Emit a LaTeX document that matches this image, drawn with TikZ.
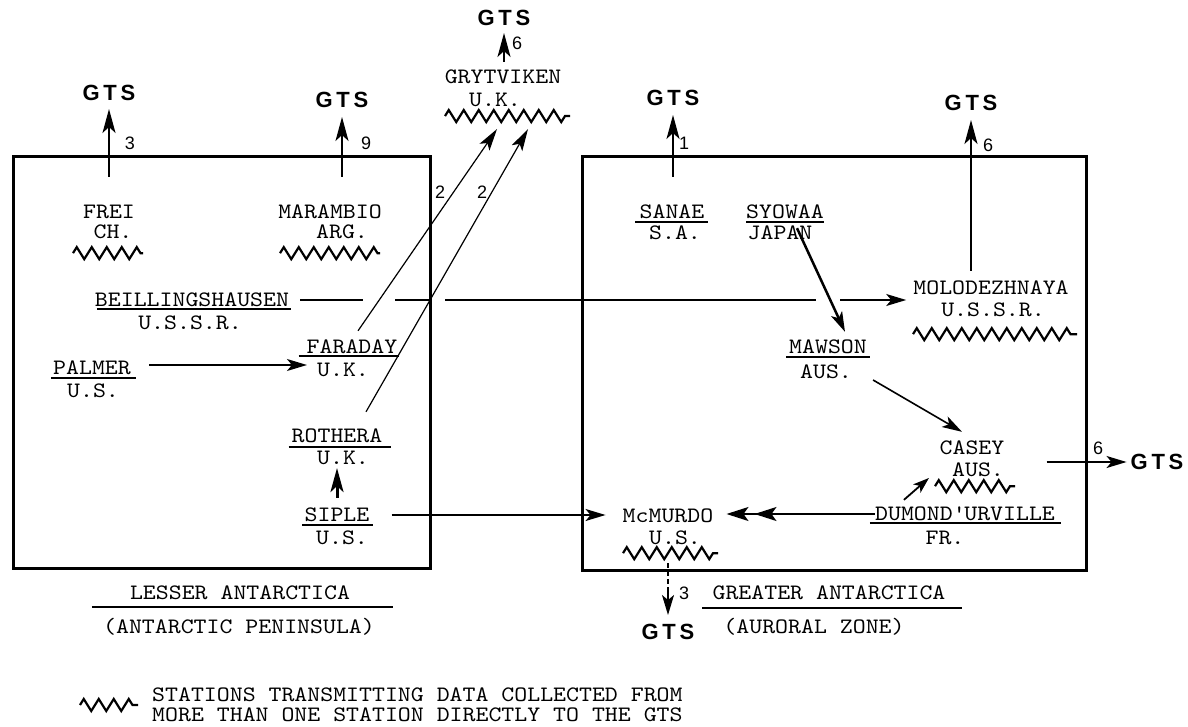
\documentclass[tikz,border=0pt]{standalone}
\usepackage{fontspec}
\newfontfamily\gtsfont{Liberation Sans}
\newfontfamily\twfont{lmmono10-regular.otf}[FakeStretch=1.12]
\usetikzlibrary{arrows.meta,decorations.pathmorphing,calc}
\begin{document}
\begin{tikzpicture}[x=1pt,y=-1pt,
  tw/.style={font=\twfont\fontsize{22}{20}\selectfont, inner sep=0pt},
  gts/.style={font=\gtsfont\bfseries\fontsize{22}{24}\selectfont, inner sep=0pt},
  num/.style={font=\gtsfont\fontsize{18}{20}\selectfont, inner sep=0pt},
  frame/.style={line width=3pt, line join=miter},
  link/.style={line width=1.6pt, -{Stealth[length=20pt,width=12pt,inset=5pt]}},
  uplink/.style={line width=1.8pt, -{Stealth[length=24pt,width=13pt,inset=6pt]}},
  thinlink/.style={line width=1.2pt, -{Stealth[length=22pt,width=12pt,inset=5pt]}},
  wavy/.style={line width=2.2pt, line join=miter, decorate, decoration={zigzag, segment length=15pt, amplitude=6pt}},
  ul/.style={line width=1.6pt}]
\useasboundingbox (0,0) rectangle (1188,727);

% frames
\draw[frame] (13,157) rectangle (430,568);
\draw[frame] (582,157) rectangle (1086,570);

% Lesser Antarctica stations
\node[tw] (frei) at (109,212) {FREI};
\node[tw] (freic) at (113,232) {CH.};
\node[tw] (mara) at (330,212) {MARAMBIO};
\node[tw] (marac) at (342,232) {ARG.};
\node[tw] (bell) at (192,300) {BEILLINGSHAUSEN};
\node[tw] (bellc) at (190,323) {U.S.S.R.};
\node[tw] (fara) at (352,347) {FARADAY};
\node[tw] (farac) at (343,370) {U.K.};
\node[tw] (palm) at (92,368) {PALMER};
\node[tw] (palmc) at (93,391) {U.S.};
\node[tw] (roth) at (337,436) {ROTHERA};
\node[tw] (rothc) at (343,458) {U.K.};
\node[tw] (sipl) at (337,515) {SIPLE};
\node[tw] (siplc) at (342,538) {U.S.};
\node[tw] (lesser) at (240,593) {LESSER ANTARCTICA};
\node[tw] (lesserc) at (239,627) {(ANTARCTIC PENINSULA)};

% Grytviken
\node[tw] (gryt) at (503,77) {GRYTVIKEN};
\node[tw] (grytc) at (495,100) {U.K.};

% Greater Antarctica stations
\node[tw] (sanae) at (672,212) {SANAE};
\node[tw] (sanaec) at (675,233) {S.A.};
\node[tw] (syowa) at (785,212) {SYOWAA};
\node[tw] (syowac) at (780,233) {JAPAN};
\node[tw] (molo) at (991,288) {MOLODEZHNAYA};
\node[tw] (moloc) at (993,310) {U.S.S.R.};
\node[tw] (maws) at (828,347) {MAWSON};
\node[tw] (mawsc) at (826,372) {AUS.};
\node[tw] (case) at (972,448) {CASEY};
\node[tw] (casec) at (978,470) {AUS.};
\node[tw] (dumo) at (965,514) {DUMOND\textquotesingle URVILLE};
\node[tw] (dumoc) at (945,538) {FR.};
\node[tw] (mcm) at (668,516) {McMURDO};
\node[tw] (mcmc) at (675,538) {U.S.};
\node[tw] (greater) at (829,593) {GREATER ANTARCTICA};
\node[tw] (greaterc) at (814,627) {(AURORAL ZONE)};

% legend
\node[tw, anchor=west, align=left] (legend) at (152,705) {STATIONS TRANSMITTING DATA COLLECTED FROM\\MORE THAN ONE STATION DIRECTLY TO THE GTS};

% GTS labels
\node[gts] (g1) at (109,93) {G\,T\,S};
\node[gts] (g2) at (342,100) {G\,T\,S};
\node[gts] (g3) at (504,18) {G\,T\,S};
\node[gts] (g4) at (673,98) {G\,T\,S};
\node[gts] (g5) at (971,103) {G\,T\,S};
\node[gts] (g6) at (1157,462) {G\,T\,S};
\node[gts] (g7) at (668,632) {G\,T\,S};

% numbers
\node[num] (n1) at (130,143) {3};
\node[num] (n2) at (366,143) {9};
\node[num] (n3) at (517,43) {6};
\node[num] (n4) at (440,192) {2};
\node[num] (n5) at (482,192) {2};
\node[num] (n6) at (684,143) {1};
\node[num] (n7) at (988,145) {6};
\node[num] (n8) at (1098,448) {6};
\node[num] (n9) at (684,593) {3};

% underlines
\draw[ul] ($(bell.west)+(2,9)$) -- ($(bell.east)+(2,9)$);
\draw[ul] ($(fara.west)+(-8,9)$) -- ($(fara.east)+(2,9)$);
\draw[ul] ($(palm.west)+(-2,10)$) -- ($(palm.east)+(5,10)$);
\draw[ul] ($(roth.west)+(-3,11)$) -- ($(roth.east)+(9,11)$);
\draw[ul] ($(sipl.west)+(-2,10)$) -- ($(sipl.east)+(3,10)$);
\draw[ul] ($(sanae.west)+(-4,10)$) -- ($(sanae.east)+(3,10)$);
\draw[ul] ($(syowa.west)+(0,10)$) -- ($(syowa.east)+(0,10)$);
\draw[ul] ($(maws.west)+(-3,10)$) -- ($(maws.east)+(3,10)$);
\draw[ul] ($(dumo.west)+(-5,9)$) -- ($(dumo.east)+(6,9)$);
\draw[ul] ($(lesser.west)+(-38,14)$) -- ($(lesser.east)+(43,14)$);
\draw[ul] ($(greater.west)+(-10,15)$) -- ($(greater.east)+(16,15)$);

% zigzags
\draw[wavy] ($(freic.south)+(-40,14)$) -- ++(70,0);
\draw[wavy] ($(marac.south)+(-62,14)$) -- ++(100,0);
\draw[wavy] ($(grytc.south)+(-50,9)$) -- ++(125,0);
\draw[wavy] ($(moloc.south)+(-80,17)$) -- ++(164,0);
\draw[wavy] ($(casec.south)+(-43,9)$) -- ++(80,0);
\draw[wavy] ($(mcmc.south)+(-52,8)$) -- ++(95,0);
\draw[wavy] ($(legend.west)+(-72,0)$) -- ++(58,0);

% GTS links
\draw[uplink, shorten <=28pt, shorten >=8pt] (frei.north) -- (g1.south);
\draw[uplink, shorten <=28pt, shorten >=9pt] (g2.south |- mara.north) -- (g2.south);
\draw[uplink, shorten <=8pt, shorten >=7pt] (g3.south |- gryt.north) -- (g3.south);
\draw[uplink, shorten <=28pt, shorten >=9pt] (g4.south |- sanae.north) -- (g4.south);
\draw[uplink, shorten <=10pt, shorten >=9pt] (g5.south |- molo.north) -- (g5.south);
\draw[link, shorten <=42pt, shorten >=4pt] (case.east |- g6.west) -- (g6.west);
\draw[link, dash pattern=on 5pt off 3pt on 5pt off 3pt on 5pt off 3pt on 60pt, shorten <=18pt, shorten >=9pt] (mcmc.south -| g7.north) -- (g7.north);

% station links
\draw[link, shorten <=18pt, shorten >=10pt] ([yshift=3pt]palm.east) -- ([yshift=3pt]palm.east -| farac.west);
\draw[uplink, line width=3pt, shorten <=10pt, shorten >=3pt] (sipl.north) -- (sipl.north |- rothc.south);
\draw[link, shorten <=22pt, shorten >=17pt] (sipl.east) -- (sipl.east -| mcm.west);
\draw[line width=1.6pt, -{Stealth[length=22pt,width=14pt,inset=5pt,sep=6pt] Stealth[length=22pt,width=14pt,inset=5pt]}, shorten >=13pt] (dumo.west) -- (dumo.west -| mcm.east);
\draw[link, line width=1.5pt, dash pattern=on 63pt off 32pt on 35pt off 15pt on 371pt off 24pt on 200pt, shorten <=11pt, shorten >=7pt] (bell.east) -- (bell.east -| molo.west);
\draw[link, line width=2.5pt] ($(syowa.south)+(12,9)$) -- ($(maws.north)+(17,-8)$);
\draw[link] ($(mawsc.east)+(21,8)$) -- ($(case.north)+(-10,-9)$);
\draw[line width=1.8pt, -{Stealth[length=16pt,width=11pt,inset=4pt]}] ($(dumo.north west)+(29,-7)$) -- ($(casec.west)+(-23,8)$);
\draw[thinlink] ($(fara.north)+(6,-9)$) -- ($(grytc.south)+(2,22)$);
\draw[thinlink] ($(roth.north)+(29,-17)$) -- ($(grytc.south)+(33,22)$);
\end{tikzpicture}
\end{document}
